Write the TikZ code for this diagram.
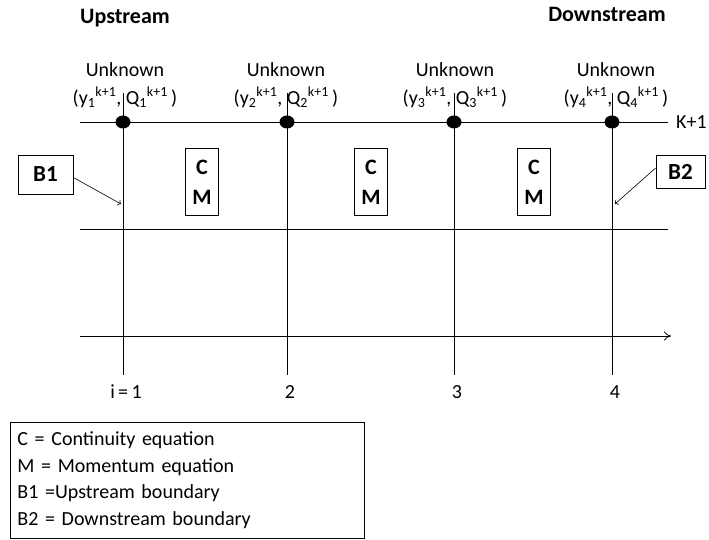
\documentclass[tikz,border=0pt]{standalone}
\usepackage{fontspec}
\setmainfont{Carlito}
\usetikzlibrary{arrows.meta}

\newcommand{\unkpair}[1]{(y\textsubscript{#1}\textsuperscript{k+1},\ Q\textsubscript{#1}\textsuperscript{k+1}\,)}

\tikzset{
  eqbox/.style={draw, line width=0.8pt, align=center, minimum width=33pt, minimum height=67pt,
    font=\fontsize{22}{30}\selectfont\bfseries},
  bbox/.style={draw, line width=0.8pt, font=\fontsize{23}{24}\selectfont\bfseries, inner sep=0pt},
  grid/.style={line width=0.8pt}
}

\begin{document}
\begin{tikzpicture}[x=1pt, y=-1pt, font=\fontsize{20}{22}\selectfont]
	\useasboundingbox (0,0) rectangle (709,540);
	\node[font=\fontsize{22}{24}\selectfont\bfseries] (up) at (125,18) {Upstream};
	\node[font=\fontsize{22}{24}\selectfont\bfseries] (down) at (607,14) {Downstream};
	% time levels
	\draw[grid] (80,122) -- (668,122);
	\node[anchor=west, inner sep=0pt] (klev) at (676,122) {K+1};
	\draw[grid] (80,229) -- (668,229);
	\draw[grid, -{To[length=7pt, width=9pt]}] (80,336) -- (671,336);
	% grid points i = 1..4
	\foreach \n/\x/\ux/\lab in {1/123/125/i\,=\,1, 2/287/286/2, 3/454/455/3, 4/612/616/4} {
		\draw[grid] (\x,93) -- (\x,375);
		\fill (\x,122) ellipse (7.5 and 6.5);
		\node (unk\n) at (\ux,70) {Unknown};
		\node (val\n) at (\ux,97) {\unkpair{\n}};
		\node (lab\n) at (\x+3,392) {\lab};
	}
	% equations between points
	\node[eqbox] (cm1) at (202,182) {C\\M};
	\node[eqbox] (cm2) at (371,182) {C\\M};
	\node[eqbox] (cm3) at (534,182) {C\\M};
	% boundaries
	\node[bbox, minimum width=55pt, minimum height=39pt] (b1) at (45.5,174.5) {B1};
	\coordinate (b1end) at (121,204);
	\draw[line width=0.6pt, ->] (b1.east) ++(0,3) -- (b1end);
	\node[bbox, minimum width=49pt, minimum height=33pt] (b2) at (680.5,172) {B2};
	\coordinate (b2end) at (615,204);
	\draw[line width=0.6pt, ->] (b2.west) ++(0,-4) -- (b2end);
	% legend
	\node[draw, line width=0.8pt, anchor=north west, minimum width=352pt, minimum height=116pt,
		text width=340pt, align=left, inner xsep=7pt, font=\fontsize{20}{26.5}\selectfont] (legend) at (10,422)
		{C = Continuity equation\\M = Momentum equation\\B1 =Upstream boundary\\B2 = Downstream boundary};
\end{tikzpicture}
\end{document}
